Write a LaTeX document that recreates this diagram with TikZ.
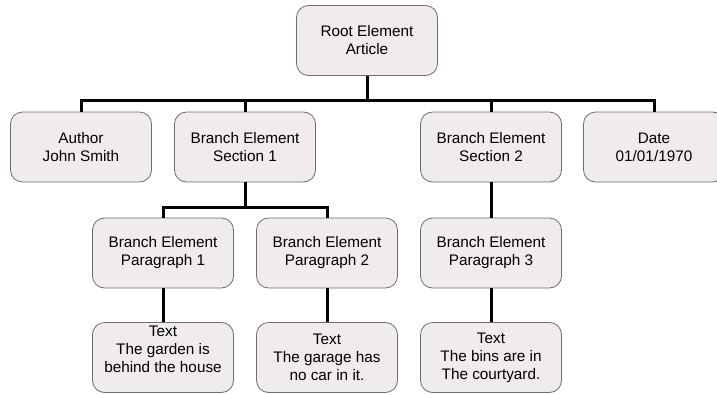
\documentclass[tikz,border=0pt]{standalone}
\usepackage{fontspec}
\setmainfont{Liberation Sans}
\usetikzlibrary{calc}
\definecolor{boxfill}{HTML}{EFEBEF}
\definecolor{boxline}{HTML}{6E6E6E}

\begin{document}
\begin{tikzpicture}[x=1pt,y=-1pt,
  elem/.style={draw=boxline,line width=0.8pt,fill=boxfill,rounded corners=12pt,
    minimum width=141pt,minimum height=70pt,align=center,inner sep=0pt,
    font=\fontsize{15.3}{18}\selectfont},
  link/.style={line width=3pt}]
  \useasboundingbox (0,0) rectangle (717,394);
  \clip (0,0) rectangle (717,394);
  \node[elem] (root) at (367,40.5) {Root Element\\Article};
  \node[elem] (author) at (81,147) {Author\\John Smith};
  \node[elem] (sec1) at (245,147) {Branch Element\\Section 1};
  \node[elem] (sec2) at (491,147) {Branch Element\\Section 2};
  \node[elem] (date) at (654,147) {Date\\01/01/1970};
  \node[elem] (para1) at (163,253) {Branch Element\\Paragraph 1};
  \node[elem] (para2) at (327,253) {Branch Element\\Paragraph 2};
  \node[elem] (para3) at (491,253) {Branch Element\\Paragraph 3};
  \node[elem,text depth=16pt] (txt1) at (163,357.5) {Text\\The garden is\\behind the house};
  \node[elem] (txt2) at (327,357.5) {Text\\The garage has\\no car in it.};
  \node[elem] (txt3) at (491,357.5) {Text\\The bins are in\\The courtyard.};
  \coordinate (bus) at (367,100);
  \coordinate (sub) at (245,207);
  \draw[link] (root.south) -- (bus);
  \draw[link] (author.north) |- (bus) -| (date.north);
  \draw[link] (sec1.north) -- (sec1.north |- bus);
  \draw[link] (sec2.north) -- (sec2.north |- bus);
  \draw[link] (sec1.south) -- (sub);
  \draw[link] (para1.north) |- (sub) -| (para2.north);
  \draw[link] (sec2.south) -- (para3.north);
  \draw[link] (para1.south) -- (txt1.north);
  \draw[link] (para2.south) -- (txt2.north);
  \draw[link] (para3.south) -- (txt3.north);
\end{tikzpicture}
\end{document}
